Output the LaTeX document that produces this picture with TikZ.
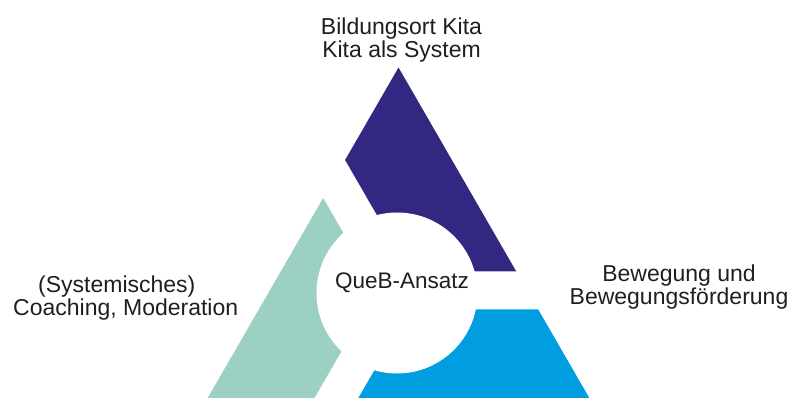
\documentclass[tikz,border=0pt]{standalone}
\usepackage{fontspec}
\setmainfont{Liberation Sans}
\usetikzlibrary{calc, positioning}

\definecolor{kitanavy}{RGB}{50,40,130}
\definecolor{coachgreen}{RGB}{155,208,194}
\definecolor{movecyan}{RGB}{0,158,224}

\begin{document}
\begin{tikzpicture}[x=1pt, y=1pt,
    label text/.style={font=\fontsize{23}{23.3}\selectfont, text=black!88,
        align=center, inner sep=0pt}]

    \useasboundingbox (0,0) rectangle (795,398);

    % triangle around the middle point
    \coordinate (mid) at (398.5,107.5);
    \coordinate (top)   at ($(mid)+(90:223)$);
    \coordinate (left)  at ($(mid)+(210:223)$);
    \coordinate (right) at ($(mid)+(330:223)$);

    \begin{scope}
        \clip (0,0) rectangle (795,398);
        \clip (top) -- (left) -- (right) -- cycle;
        % three parts, each one kept 19pt off the gap lines (19/cos 30 = 21.94)
        \begin{scope}[shift={(mid)}]
            \foreach \a/\col in {0/kitanavy, 120/coachgreen, 240/movecyan}
                \fill[\col] (\a+60:21.94) -- ++(\a:500) -- ++(\a+120:500)
                    -- ++(\a+180:500) -- cycle;
        \end{scope}
    \end{scope}
    \fill[white] (397,105) circle (80.5);

    \node[label text, font=\fontsize{22.5}{23}\selectfont, anchor=base]
        (ansatz) at (402,109) {QueB-Ansatz};

    \node[label text] (kita) [above=5pt of top, xshift=3pt]
        {Bildungsort Kita\\Kita als System};
    \node[label text, align=left, anchor=west] (coaching) at (13,100)
        {\hspace*{25pt}(Systemisches)\\Coaching, Moderation};
    \node[label text] (bewegung) at (679,110.6)
        {Bewegung und\\Bewegungsförderung};
\end{tikzpicture}
\end{document}
